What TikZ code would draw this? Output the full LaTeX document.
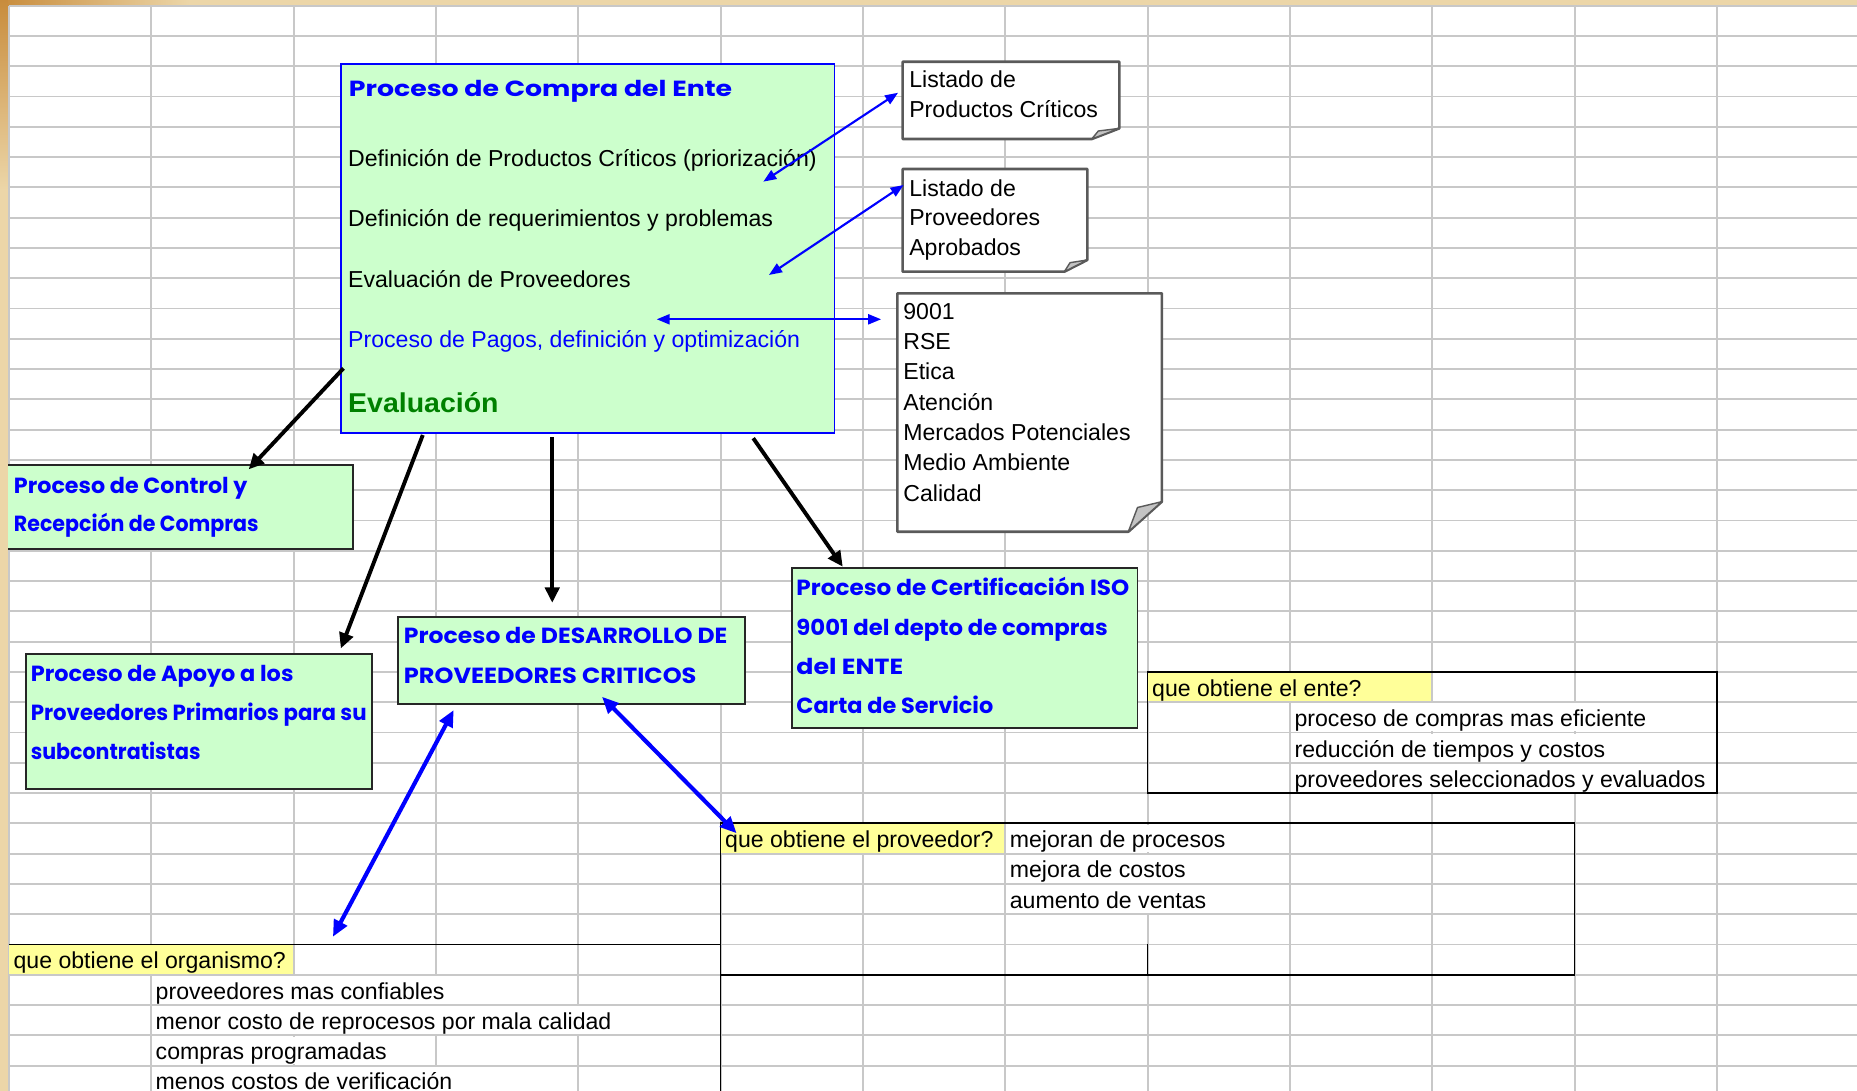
\documentclass[tikz,border=0pt]{standalone}
\usepackage{fontspec}
\usepackage{graphicx}
\setmainfont{Liberation Sans}
\newfontfamily\comicf{Poppins}
\usetikzlibrary{arrows.meta}
\definecolor{xlgreen}{HTML}{CCFFCC}
\definecolor{xlyellow}{HTML}{FFFF99}
\definecolor{gridc}{RGB}{200,200,200}
\definecolor{tanbg}{RGB}{236,214,168}
\definecolor{tandark}{RGB}{200,140,60}
\definecolor{notegray}{RGB}{90,90,90}
\definecolor{foldgray}{RGB}{195,195,195}
\definecolor{evgreen}{HTML}{008000}
\newcommand\fitw[2]{\resizebox{#1pt}{\height}{#2}}
\newcommand\ovw[3]{\fill[white] ({7.5+120.2*#1+1},{4.8+25.57*#3+1}) rectangle ({7.5+120.2*(#2+1)-1},{4.8+25.57*(#3+1)-1});}
\newcommand\ylw[3]{\fill[xlyellow] ({7.5+120.2*#1},{4.8+25.57*#3+0.8}) rectangle ({7.5+120.2*(#2+1)-0.8},{4.8+25.57*(#3+1)-0.8});}
\begin{document}
\begin{tikzpicture}[x=1pt,y=-1pt,
 gridline/.style={draw=gridc,line width=1.6pt},
 txt/.style={anchor=base west,inner sep=0pt,outer sep=0pt,font=\fontsize{19.5}{23}\selectfont},
 ctxt/.style={anchor=base west,inner sep=0pt,outer sep=0pt,text=blue,font=\comicf\bfseries\fontsize{18.5}{22}\selectfont},
 gbox/.style={rectangle,draw=black!85,line width=1.6pt,fill=xlgreen,inner sep=0pt,outer sep=0pt,anchor=north west},
 notebox/.style={draw=notegray,line width=2.2pt,fill=white,line join=round},
 flap/.style={draw=notegray,line width=1.2pt,fill=foldgray,line join=round},
 tblline/.style={draw=black,line width=1.5pt},
 thinblue/.style={draw=blue,line width=1.8pt,arrows={Triangle[length=11pt,width=8.5pt]-Triangle[length=11pt,width=8.5pt]}},
 thickblue/.style={draw=blue,line width=3.5pt,arrows={Triangle[length=14pt,width=12pt]-Triangle[length=14pt,width=12pt]}},
 blackarr/.style={draw=black,line width=3.3pt,arrows={-Triangle[length=13pt,width=12pt]}},
]
\useasboundingbox (0,0) rectangle (1568,921);
% background
\fill[tanbg] (0,0) rectangle (1568,921);
\shade[left color=tandark,right color=tanbg] (0,0) rectangle (160,5);
\fill[white] (7.5,4.8) rectangle (1568,921);
% grid
\foreach \k in {0,...,12} \draw[gridline] ({7.5+120.2*\k},4.8) -- ({7.5+120.2*\k},921);
\foreach \k in {0,...,35} \draw[gridline] (7.5,{4.8+25.57*\k}) -- (1568,{4.8+25.57*\k});
% overflow areas
\ovw{1}{3}{32}\ovw{1}{4}{33}\ovw{1}{2}{34}\ovw{1}{3}{35}
\ovw{7}{8}{27}\ovw{7}{8}{28}\ovw{7}{8}{29}
\ovw{9}{11}{23}\ovw{9}{11}{24}\ovw{9}{11}{25}
% yellow cells
\ylw{0}{1}{31}\ylw{5}{6}{27}\ylw{8}{9}{22}
% table borders
\draw[tblline] (968.9,567.34) rectangle (1449.7,669.62);
\draw[tblline] (608.3,695.19) rectangle (1329.5,823.04);
\draw[tblline] (968.9,797.47) -- (968.9,823.04);
\draw[tblline] (7.5,797.47) -- (608.3,797.47);
\draw[tblline] (608.3,823.04) -- (608.3,921);
% table texts
\node[txt] (tent) at (972.9,588.2) {que obtiene el ente?};
\node[txt] (ent1) at (1093.1,613.8) {proceso de compras mas eficiente};
\node[txt] (ent2) at (1093.1,639.4) {reducción de tiempos y costos};
\node[txt] (ent3) at (1093.1,665.0) {proveedores seleccionados y evaluados};
\node[txt] (tprov) at (612.3,715.8) {que obtiene el proveedor?};
\node[txt] (prov1) at (852.7,715.8) {mejoran de procesos};
\node[txt] (prov2) at (852.7,741.3) {mejora de costos};
\node[txt] (prov3) at (852.7,766.9) {aumento de ventas};
\node[txt] (torg) at (11.5,818.0) {que obtiene el organismo?};
\node[txt] (org1) at (131.5,843.6) {proveedores mas confiables};
\node[txt] (org2) at (131.5,869.2) {menor costo de reprocesos por mala calidad};
\node[txt] (org3) at (131.5,894.7) {compras programadas};
\node[txt] (org4) at (131.5,920.3) {menos costos de verificación};
% main box
\node[gbox,draw=blue,line width=1.5pt,minimum width=416.5pt,minimum height=311.6pt] (main) at (288.2,54.3) {};
\node[ctxt] (mtitle) at (294.6,81.2) {\fitw{323.6}{Proceso de Compra del Ente}};
\node[txt] (m1) at (294,140.3) {Definición de Productos Críticos (priorización)};
\node[txt] (m2) at (294,191.0) {Definición de requerimientos y problemas};
\node[txt] (m3) at (294,242.5) {Evaluación de Proveedores};
\node[txt,text=blue] (m4) at (294,293.7) {Proceso de Pagos, definición y optimización};
\node[txt,text=evgreen,font=\bfseries\fontsize{23}{27}\selectfont] (m5) at (294,348.7) {\fitw{127}{Evaluación}};
% notes
\draw[notebox] (762.2,52.1) -- (945.1,52.1) -- (945.1,108.4) -- (921.8,117.4) -- (762.2,117.4) -- cycle;
\draw[flap] (921.8,117.4) -- (927.4,110.6) -- (945.1,108.4) -- cycle;
\node[txt] (n1a) at (767.8,73.7) {Listado de};
\node[txt] (n1b) at (767.8,98.9) {Productos Críticos};
\draw[notebox] (762.2,142.7) -- (918.1,142.7) -- (918.1,219.5) -- (898.7,229.4) -- (762.2,229.4) -- cycle;
\draw[flap] (898.7,229.4) -- (903.5,221.8) -- (918.1,219.5) -- cycle;
\node[txt] (n2a) at (767.8,165.5) {Listado de};
\node[txt] (n2b) at (767.8,190.8) {Proveedores};
\node[txt] (n2c) at (767.8,215.5) {Aprobados};
\draw[notebox] (757.7,247.7) -- (981,247.7) -- (981,423.6) -- (952.7,449) -- (757.7,449) -- cycle;
\draw[flap] (952.7,449) -- (960.5,428.5) -- (981,423.6) -- cycle;
\node[txt] (n3a) at (762.8,269.5) {9001};
\node[txt] (n3b) at (762.8,295.1) {RSE};
\node[txt] (n3c) at (762.8,320.7) {Etica};
\node[txt] (n3d) at (762.8,346.3) {Atención};
\node[txt] (n3e) at (762.8,371.9) {Mercados Potenciales};
\node[txt] (n3f) at (762.8,397.5) {Medio Ambiente};
\node[txt] (n3g) at (762.8,423.1) {Calidad};
% process boxes
\node[gbox,minimum width=296.1pt,minimum height=71pt] (ctrl) at (2,392.6) {};
\node[ctxt] (ctrl1) at (11.8,416.5) {\fitw{197.2}{Proceso de Control y}};
\node[ctxt] (ctrl2) at (11.8,448.5) {\fitw{206.6}{Recepción de Compras}};
\node[gbox,minimum width=292.3pt,minimum height=114.3pt] (apoyo) at (21.9,552.2) {};
\node[ctxt] (apo1) at (26,575.5) {\fitw{221.8}{Proceso de Apoyo a los}};
\node[ctxt] (apo2) at (26,608.5) {\fitw{283.6}{Proveedores Primarios para su}};
\node[ctxt] (apo3) at (26,641.5) {\fitw{143.3}{subcontratistas}};
\node[gbox,minimum width=292.8pt,minimum height=74pt] (desa) at (336.1,520.7) {};
\node[ctxt] (des1) at (341.1,543.7) {\fitw{273.1}{Proceso de DESARROLLO DE}};
\node[ctxt] (des2) at (341.1,576.7) {\fitw{247}{PROVEEDORES CRITICOS}};
\node[gbox,minimum width=291.5pt,minimum height=134.5pt] (cert) at (669,479.9) {};
\node[ctxt] (cer1) at (672.5,502.9) {\fitw{281}{Proceso de Certificación ISO}};
\node[ctxt] (cer2) at (672.5,536.7) {\fitw{262.8}{9001 del depto de compras}};
\node[ctxt] (cer3) at (672.5,569.9) {\fitw{90.1}{del ENTE}};
\node[ctxt] (cer4) at (672.5,602.8) {\fitw{166.2}{Carta de Servicio}};
% arrow end points
\coordinate (aA1) at (758.3,78.3);   \coordinate (aA2) at (644.5,153.4);
\coordinate (aB1) at (763,156.2);    \coordinate (aB2) at (649.3,232.2);
\coordinate (aC1) at (554.5,269.6);  \coordinate (aC2) at (744,269.6);
\coordinate (aD1) at (290,311);      \coordinate (aD2) at (210,396.3);
\coordinate (aE1) at (357,367.3);    \coordinate (aE2) at (287.8,547.5);
\coordinate (aF1) at (466.3,369);    \coordinate (aF2) at (466.3,509);
\coordinate (aG1) at (636,370);      \coordinate (aG2) at (711.6,478.5);
\coordinate (aH1) at (383.1,599.5);  \coordinate (aH2) at (281.1,791);
\coordinate (aI1) at (508.3,588.3);  \coordinate (aI2) at (622,703.6);
% arrows
\draw[thinblue] (aA2) -- (aA1);
\draw[thinblue] (aB2) -- (aB1);
\draw[thinblue] (aC1) -- (aC2);
\draw[blackarr] (aD1) -- (aD2);
\draw[blackarr] (aE1) -- (aE2);
\draw[blackarr] (aF1) -- (aF2);
\draw[blackarr] (aG1) -- (aG2);
\draw[thickblue] (aH1) -- (aH2);
\draw[thickblue] (aI1) -- (aI2);
% left frame strip
\fill[tanbg] (0,0) rectangle (6.6,921);
\shade[top color=tandark,bottom color=tanbg] (0,0) rectangle (6.6,160);
\end{tikzpicture}
\end{document}
